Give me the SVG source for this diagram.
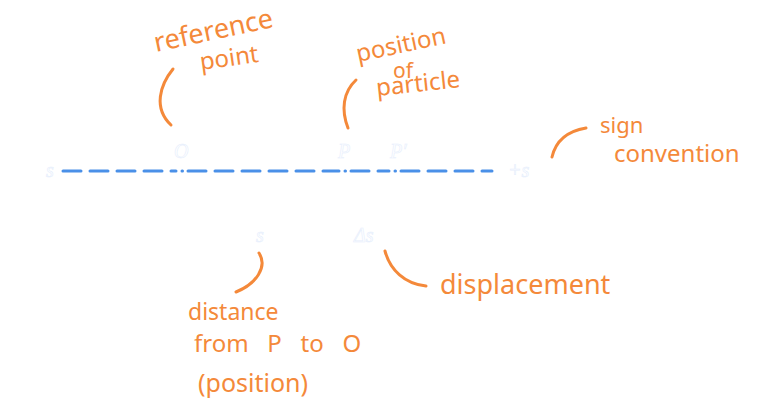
<svg xmlns="http://www.w3.org/2000/svg" width="781" height="413" viewBox="0 0 781 413">
<style>
.note{font-family:"Noto Sans",sans-serif;font-size:22px;fill:#f4893a;}
.curve{fill:none;stroke:#f4893a;stroke-width:3;stroke-linecap:round;}
.lbl{font-family:"Liberation Serif",serif;font-style:italic;font-size:20px;fill:#ffffff;stroke:#e6eefc;stroke-width:0.6;}
.axis{stroke:#4a90e8;stroke-width:3;stroke-linecap:round;fill:none;stroke-dasharray:18,9;}
.dot{stroke:#4a90e8;stroke-width:3;stroke-linecap:round;}
</style>
<rect width="781" height="413" fill="#ffffff"/>
<g id="connectors">
<path class="axis" d="M63,171 H176"/>
<path class="axis" d="M188,171 H339"/>
<path class="axis" d="M351,171 H389"/>
<path class="axis" d="M401,171 H492"/>
<path class="dot" d="M182,171 h0.5 M345,171 h0.5 M395,171 h0.5"/>
<path class="curve" d="M173,69 C160,85 153,108 171,125"/>
<path class="curve" d="M356,80 C343,92 341,110 348,128"/>
<path class="curve" d="M586,128 C568,131 556,140 552,157"/>
<path class="curve" d="M259,253 C268,267 256,284 236,292"/>
<path class="curve" d="M385,251 C390,270 405,284 426,286"/>
</g>
<g id="axis-labels">
<text class="lbl" x="46" y="177">s</text>
<text class="lbl" x="174" y="158">O</text>
<text class="lbl" x="338" y="158">P</text>
<text class="lbl" x="390" y="158">P′</text>
<text class="lbl" x="508" y="177">+s</text>
<text class="lbl" x="256" y="242">s</text>
<text class="lbl" x="354" y="242">Δs</text>
</g>
<g id="note-reference-point">
<text class="note" style="font-size:27px" transform="translate(156,52) rotate(-12)">reference</text>
<text class="note" style="font-size:24px" transform="translate(201,70) rotate(-8)">point</text>
</g>
<g id="note-position-of-particle">
<text class="note" style="font-size:24px" transform="translate(358,62) rotate(-12)">position</text>
<text class="note" style="font-size:21px" x="393" y="78">of</text>
<text class="note" style="font-size:24px" transform="translate(377,96) rotate(-6)">particle</text>
</g>
<g id="note-sign-convention">
<text class="note" x="600" y="133">sign</text>
<text class="note" style="font-size:24px" x="614" y="162">convention</text>
</g>
<g id="note-distance">
<text class="note" style="font-size:23px" x="188" y="320">distance</text>
<text class="note" style="font-size:24px" x="194" y="352" xml:space="preserve">from   P   to   O</text>
<text class="note" style="font-size:25px" x="198" y="392">(position)</text>
</g>
<g id="note-displacement">
<text class="note" style="font-size:27px" x="440" y="294">displacement</text>
</g>
</svg>
